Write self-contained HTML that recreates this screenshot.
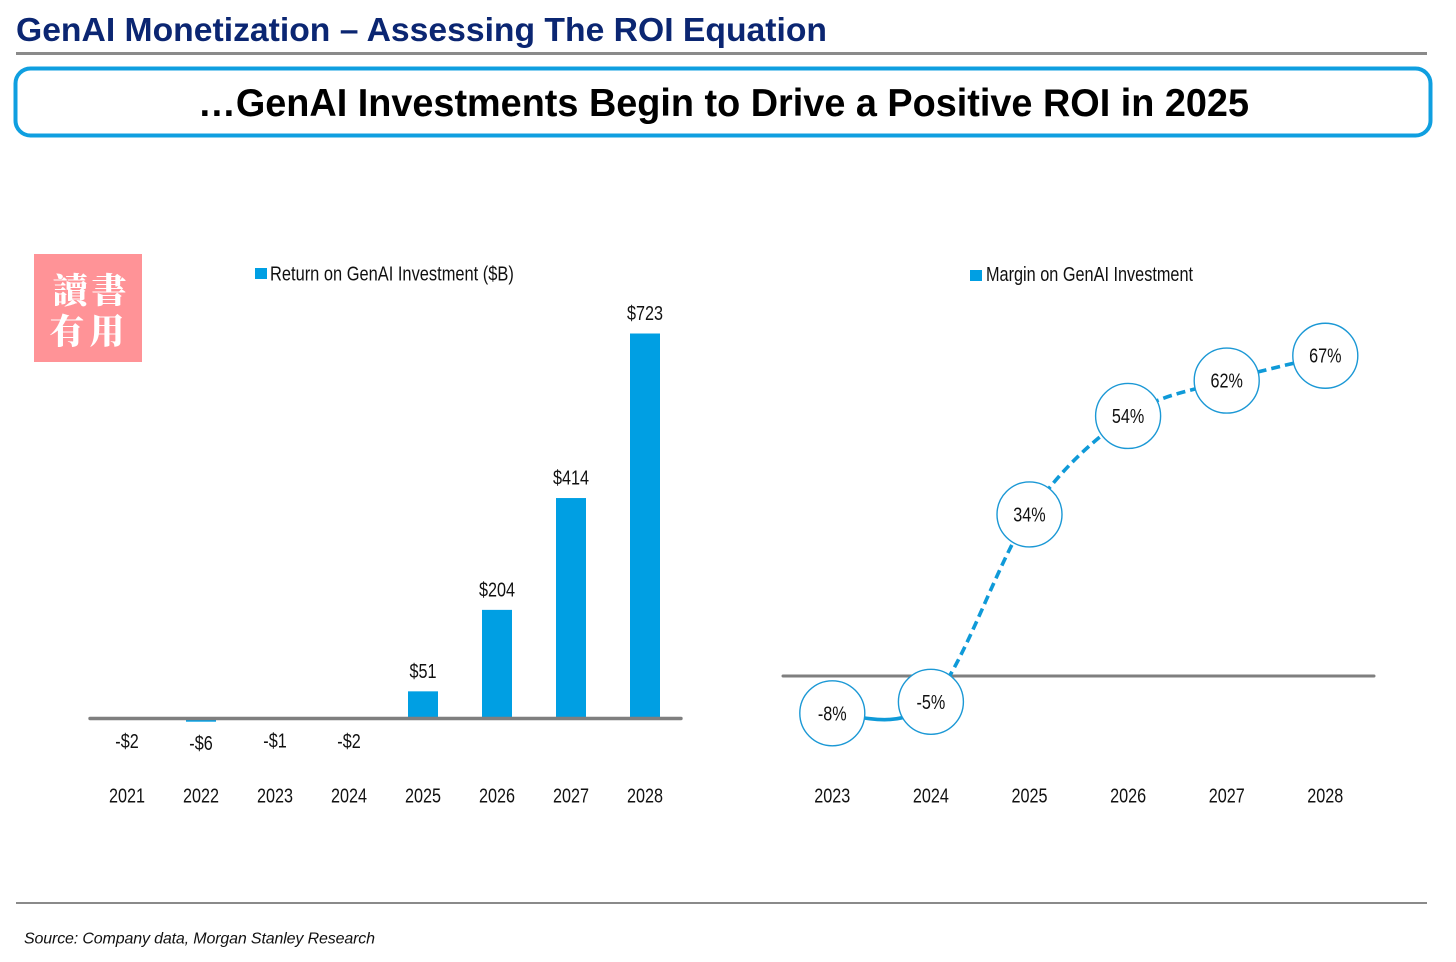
<!DOCTYPE html>
<html lang="en">
<head>
<meta charset="utf-8">
<title>GenAI Monetization</title>
<style>
html,body{margin:0;padding:0;background:#fff;width:1456px;height:962px;overflow:hidden}
svg{display:block}
text{font-family:"Liberation Sans",sans-serif}
.lbl{font-size:20px;fill:#111;text-anchor:middle}
.leg{font-size:20px;fill:#111}
.wm{font-family:"Liberation Serif","Noto Serif CJK SC",serif;font-size:35px;font-weight:900;fill:#fff;text-anchor:middle}
</style>
</head>
<body>
<svg id="stage" xmlns="http://www.w3.org/2000/svg" width="1456" height="962" viewBox="0 0 1456 962">
  <text x="16" y="41" font-size="33" font-weight="700" fill="#0b2672" textLength="811" lengthAdjust="spacingAndGlyphs">GenAI Monetization – Assessing The ROI Equation</text>
  <rect x="16" y="52" width="1411" height="3" fill="#8a8a8a"/>
  <rect x="15.5" y="68.5" width="1415" height="67" rx="15" ry="15" fill="#fff" stroke="#0f9fe0" stroke-width="4"/>
  <text x="198" y="116" font-size="38.5" font-weight="700" fill="#000" textLength="1051" lengthAdjust="spacingAndGlyphs">…GenAI Investments Begin to Drive a Positive ROI in 2025</text>

  <g>
    <rect x="34" y="254" width="108" height="108" fill="#ff9397"/>
    <text class="wm" x="70" y="303">讀</text>
    <text class="wm" x="109" y="303">書</text>
    <text class="wm" x="67" y="344">有</text>
    <text class="wm" x="107" y="344">用</text>
  </g>

  <g id="barChart">
    <rect x="255" y="268" width="12" height="11" fill="#009fe3"/>
    <text class="leg" transform="translate(270 280.5) scale(.822 1)">Return on GenAI Investment ($B)</text>
  </g>

  <g id="lineChart">
    <rect x="970" y="270" width="12" height="11" fill="#009fe3"/>
    <text class="leg" transform="translate(986 281) scale(.814 1)">Margin on GenAI Investment</text>
  </g>

  <rect x="16" y="902" width="1411" height="2" fill="#8a8a8a"/>
  <text x="24" y="943.5" font-size="16" font-style="italic" fill="#111" textLength="351" lengthAdjust="spacing">Source: Company data, Morgan Stanley Research</text>
</svg>
<script>
const barCategories = ['2021','2022','2023','2024','2025','2026','2027','2028'];
const barValues = [-2,-6,-1,-2,51,204,414,723];
const barLabels = ['-$2','-$6','-$1','-$2','$51','$204','$414','$723'];

const lineCategories = ['2023','2024','2025','2026','2027','2028'];
const lineValues = [-7.8,-5.4,33.8,54.4,61.8,67];
const lineLabels = ['-8%','-5%','34%','54%','62%','67%'];

const NS = 'http://www.w3.org/2000/svg';
const BLUE = '#009fe3';
function make(parent, tag, attrs){
  const e = document.createElementNS(NS, tag);
  for (const k in attrs) e.setAttribute(k, attrs[k]);
  parent.appendChild(e);
  return e;
}
function label(parent, x, y, str){
  const t = make(parent, 'text', {class:'lbl', transform:'translate('+x+' '+y+') scale(.81 1)'});
  t.textContent = str;
  return t;
}

/* Bar chart axes */
const barX = i => 127 + i * 74;
const barY = v => 718.5 - v * 0.5325;
const barG = document.getElementById('barChart');
barValues.forEach((v, i) => {
  const top = Math.min(barY(v), barY(0));
  const h = Math.abs(barY(v) - barY(0));
  const r = make(barG, 'rect', {x: barX(i) - 15, y: top, width: 30, height: Math.max(h, 0), fill: BLUE});
  
  
  const ly = v >= 0 ? barY(v) - 13.5 : barY(v) + 28.5;
  const vl = label(barG, barX(i), ly, barLabels[i]);
  
  
  const cl = label(barG, barX(i), 802.5, barCategories[i]);
  
  
});
const barAxis = make(barG, 'line', {x1: 90, x2: 681, y1: barY(0), y2: barY(0), stroke: '#7f7f7f', 'stroke-width': 3.4, 'stroke-linecap': 'round'});



/* Line chart axes */
const lineX = i => 832.3 + i * 98.6;
const lineY = v => 676 - v * 4.78;
const lineG = document.getElementById('lineChart');
const pts = lineValues.map((v, i) => [lineX(i), lineY(v)]);
function seg(a){
  const p0 = pts[Math.max(a - 1, 0)], p1 = pts[a], p2 = pts[a + 1], p3 = pts[Math.min(a + 2, pts.length - 1)];
  const k = 1 / 6;
  return 'C' + (p1[0] + (p2[0] - p0[0]) * k) + ' ' + (p1[1] + (p2[1] - p0[1]) * k) + ' ' +
         (p2[0] - (p3[0] - p1[0]) * k) + ' ' + (p2[1] - (p3[1] - p1[1]) * k) + ' ' + p2[0] + ' ' + p2[1];
}
const lineAxis = make(lineG, 'line', {x1: 783, x2: 1374, y1: lineY(0), y2: lineY(0), stroke: '#7f7f7f', 'stroke-width': 3, 'stroke-linecap': 'round'});



const solid = make(lineG, 'path', {d: 'M' + pts[0][0] + ' ' + pts[0][1] + seg(0), fill: 'none', stroke: '#0f9ad8', 'stroke-width': 3.6});


let dashD = 'M' + pts[1][0] + ' ' + pts[1][1];
for (let i = 1; i < pts.length - 1; i++) dashD += seg(i);
const dashed = make(lineG, 'path', {d: dashD, fill: 'none', stroke: '#0f9ad8', 'stroke-width': 3.6, 'stroke-dasharray': '9 5'});



lineValues.forEach((v, i) => {
  const c = make(lineG, 'circle', {cx: lineX(i), cy: lineY(v), r: 32.5, fill: '#fff', stroke: '#1b98d5', 'stroke-width': 1.4});
  
  
  const vl = label(lineG, lineX(i), lineY(v) + 7, lineLabels[i]);
  
  
  const cl = label(lineG, lineX(i), 802.5, lineCategories[i]);
  
  
});
</script>
</body>
</html>
